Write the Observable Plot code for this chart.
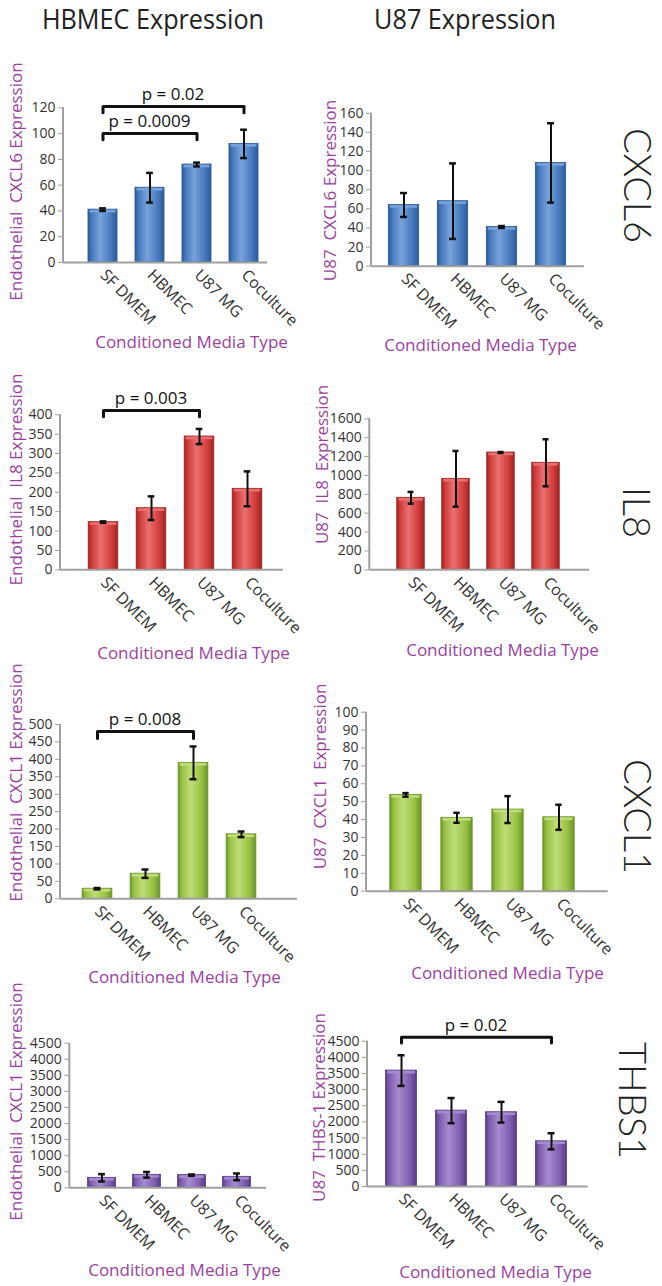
<!DOCTYPE html>
<html>
<head>
<meta charset="utf-8">
<script src="https://cdn.jsdelivr.net/npm/d3@7"></script>
<script src="https://cdn.jsdelivr.net/npm/@observablehq/plot@0.6"></script>
<style>
  html, body { margin: 0; padding: 0; background: #fff; }
  #root { position: relative; width: 662px; height: 1286px; overflow: hidden; font-family: "Open Sans", sans-serif; }
  .coltitle { position: absolute; font-size: 28px; color: #222; transform: translate(-50%, -50%) scaleX(0.9); white-space: nowrap; line-height: 1; }
  .panel { position: absolute; }
</style>
</head>
<body>
<div id="root"></div>
<script>
// ---------- data ----------
const categories = ["SF DMEM", "HBMEC", "U87 MG", "Coculture"];
const columnTitles = ["HBMEC Expression", "U87 Expression"];
const rowLabels = ["CXCL6", "IL8", "CXCL1", "THBS1"];
const xTitle = "Conditioned Media Type";

const hbmecCXCL6 = [41, 58, 76, 92];
const hbmecCXCL6Err = [1, 11.5, 1.5, 11];
const u87CXCL6 = [64, 68, 41, 108];
const u87CXCL6Err = [12.5, 39.5, 1, 41.5];
const hbmecIL8 = [123, 159, 344, 209];
const hbmecIL8Err = [2, 30.5, 19.5, 45];
const u87IL8 = [763, 964, 1243, 1134];
const u87IL8Err = [62, 295, 5, 249];
const hbmecCXCL1 = [29, 72, 390, 185];
const hbmecCXCL1Err = [2, 12, 47, 8];
const u87CXCL1 = [53.8, 41, 45.6, 41.3];
const u87CXCL1Err = [1, 2.8, 7.5, 7];
const hbmecTHBS1 = [311, 404, 394, 342];
const hbmecTHBS1Err = [114, 88, 20, 104];
const u87THBS1 = [3590, 2350, 2300, 1400];
const u87THBS1Err = [475, 390, 320, 250];

const yLabels = [
  "Endothelial  CXCL6 Expression", "U87  CXCL6 Expression",
  "Endothelial  IL8 Expression", "U87  IL8  Expression",
  "Endothelial  CXCL1 Expression", "U87  CXCL1  Expression",
  "Endothelial  CXCL1 Expression", "U87  THBS-1 Expression"
];
const yMax = [120, 160, 400, 1600, 500, 100, 4500, 4500];
const yStep = [20, 20, 50, 200, 50, 10, 500, 500];

const pLabels = ["p = 0.02", "p = 0.0009", "p = 0.003", "p = 0.008", "p = 0.02"];
const pPanel = [0, 0, 2, 4, 7];
const pFrom = ["SF DMEM", "SF DMEM", "SF DMEM", "SF DMEM", "SF DMEM"];
const pTo = ["Coculture", "U87 MG", "U87 MG", "U87 MG", "Coculture"];
const pLevel = [121, 100, 411, 480, 4624];

// ---------- styling / layout ----------
const seriesValues = [hbmecCXCL6, u87CXCL6, hbmecIL8, u87IL8, hbmecCXCL1, u87CXCL1, hbmecTHBS1, u87THBS1];
const seriesErrors = [hbmecCXCL6Err, u87CXCL6Err, hbmecIL8Err, u87IL8Err, hbmecCXCL1Err, u87CXCL1Err, hbmecTHBS1Err, u87THBS1Err];

const palettes = [
  {dark: "#2b5a96", main: "#4577bc", light: "#78a3dc"},
  {dark: "#9e2424", main: "#d03a3a", light: "#ea7070"},
  {dark: "#6a9327", main: "#97c043", light: "#c0de78"},
  {dark: "#573c86", main: "#7d5cae", light: "#a68bd0"}
];
const purple = "#9b3fa0";

const layout = [
  {col: 0, axisX: 63,    rightEnd: 267,   topY: 107.3,  zeroY: 262,    inL: 15,    inR: 0,    yLab: [16, 181],   xTit: [191, 342]},
  {col: 1, axisX: 371,   rightEnd: 584,   topY: 112.7,  zeroY: 265.7,  inL: 8.2,   inR: 8.4,  yLab: [330, 190],  xTit: [480, 345],   row: [636, 185]},
  {col: 0, axisX: 60,    rightEnd: 283,   topY: 414.3,  zeroY: 569.3,  inL: 18.5,  inR: 11.1, yLab: [16, 479],   xTit: [193, 653]},
  {col: 1, axisX: 369.3, rightEnd: 589,   topY: 418.3,  zeroY: 569.3,  inL: 16.4,  inR: 19.3, yLab: [322, 464],  xTit: [502, 650],   row: [635, 512]},
  {col: 0, axisX: 60,    rightEnd: 297,   topY: 724,    zeroY: 898.3,  inL: 12.65, inR: 32,   yLab: [16, 782],   xTit: [184, 977]},
  {col: 1, axisX: 366,   rightEnd: 607.7, topY: 711.7,  zeroY: 890.7,  inL: 12.5,  inR: 22.5, yLab: [320, 776],  xTit: [507, 973],   row: [636, 816]},
  {col: 0, axisX: 69.3,  rightEnd: 266,   topY: 1042.7, zeroY: 1187.3, inL: 9.8,   inR: 6.1,  yLab: [16, 1101],  xTit: [184, 1270]},
  {col: 1, axisX: 367,   rightEnd: 587.7, topY: 1040.7, zeroY: 1186,   inL: 9,     inR: 11.7, yLab: [319, 1107], xTit: [495, 1271.7], row: [631, 1100]}
];

const root = document.getElementById("root");

// column titles
[[152.5, 17.5], [465, 17.5]].forEach(([x, y], k) => {
  const d = document.createElement("div");
  d.className = "coltitle";
  d.style.left = x + "px";
  d.style.top = y + "px";
  d.textContent = columnTitles[k];
  root.appendChild(d);
});

function defsMark(id, pal) {
  return () => {
    const defs = d3.create("svg:defs");
    const g = defs.append("linearGradient").attr("id", id).attr("x1", 0).attr("x2", 1).attr("y1", 0).attr("y2", 0);
    [[0, pal.dark], [0.12, pal.main], [0.42, pal.light], [0.8, pal.main], [1, pal.dark]].forEach(([o, c]) => {
      g.append("stop").attr("offset", o).attr("stop-color", c);
    });
    return defs.node();
  };
}

function leftLine() {
  return (index, scales, values, dims) =>
    d3.create("svg:line")
      .attr("x1", dims.marginLeft).attr("x2", dims.marginLeft)
      .attr("y1", dims.marginTop).attr("y2", dims.height - dims.marginBottom)
      .attr("stroke", "#a0a0a0").attr("stroke-width", 2).node();
}

function pTextMark(k) {
  return (index, scales) => {
    const x = scales.x;
    const bw = x.bandwidth ? x.bandwidth() : (x(categories[1]) - x(categories[0]));
    const cx = (x(pFrom[k]) + x(pTo[k])) / 2 + bw / 2;
    const cy = scales.y(pLevel[k]) - 6;
    return d3.create("svg:text")
      .attr("x", cx).attr("y", cy)
      .attr("text-anchor", "middle")
      .attr("font-size", 17)
      .attr("fill", "#111")
      .text(pLabels[k]).node();
  };
}

function buildPanel(i) {
  const L = layout[i];
  const r = Math.floor(i / 2);
  const pal = palettes[r];
  const data = categories.map((c, j) => ({cat: c, value: seriesValues[i][j], err: seriesErrors[i][j]}));
  const svgLeft = L.col === 0 ? 0 : 300;
  const svgWidth = L.col === 0 ? 300 : 362;
  const svgTop = Math.round(L.topY - 85);
  const svgHeight = Math.round(L.zeroY + 100 - svgTop);
  const step = (L.rightEnd - L.axisX - L.inL - L.inR) / categories.length;
  const barInset = step * (1 - 0.62) / 2;
  const capInset = (step - 7) / 2;
  const gradId = "grad" + r;

  const marks = [
    defsMark(gradId, pal),
    Plot.barY(data, {x: "cat", y: "value", fill: `url(#${gradId})`, stroke: pal.dark, strokeWidth: 0.8,
      insetLeft: barInset, insetRight: barInset}),
    Plot.tickY(data, {x: "cat", y: "value", dy: 1.5, stroke: pal.light, strokeWidth: 2.5,
      insetLeft: barInset + 1.5, insetRight: barInset + 1.5}),
    Plot.ruleX(data, {x: "cat", y1: d => d.value - d.err, y2: d => d.value + d.err, stroke: "#111", strokeWidth: 2}),
    Plot.tickY(data, {x: "cat", y: d => d.value + d.err, stroke: "#111", strokeWidth: 2.5, insetLeft: capInset, insetRight: capInset}),
    Plot.tickY(data, {x: "cat", y: d => d.value - d.err, stroke: "#111", strokeWidth: 2.5, insetLeft: capInset, insetRight: capInset}),
    Plot.ruleY([0], {stroke: "#a0a0a0", strokeWidth: 2}),
    leftLine(),
    Plot.axisY({ticks: d3.range(0, yMax[i] + yStep[i] / 2, yStep[i]), tickSize: 5, tickPadding: 3,
      tickFormat: d => String(d), stroke: "#a0a0a0", fill: "#333", fontSize: 14, label: null}),
    Plot.axisX({tickRotate: 45, tickSize: 0, tickPadding: 10, fill: "#333", fontSize: 16, label: null}),
    Plot.text([yLabels[i]], {text: d => d, frameAnchor: "top-left", dx: L.yLab[0] - L.axisX, dy: L.yLab[1] - L.topY,
      rotate: -90, textAnchor: "middle", lineAnchor: "middle", fill: purple, fontSize: 17}),
    Plot.text([xTitle], {text: d => d, frameAnchor: "top-left", dx: L.xTit[0] - L.axisX, dy: L.xTit[1] - L.topY,
      textAnchor: "middle", lineAnchor: "middle", fill: purple, fontSize: 17})
  ];

  if (L.row) {
    marks.push(Plot.text([rowLabels[r]], {text: d => d, frameAnchor: "top-left", dx: L.row[0] - L.axisX, dy: L.row[1] - L.topY,
      rotate: 90, textAnchor: "middle", lineAnchor: "middle", fill: "#222", fontSize: 38, fontWeight: 300,
      fontFamily: "Lato, 'Open Sans', sans-serif"}));
  }

  pPanel.forEach((p, k) => {
    if (p !== i) return;
    const drop = yMax[i] * 0.04;
    const pts = [
      {x: pFrom[k], y: pLevel[k] - drop}, {x: pFrom[k], y: pLevel[k]},
      {x: pTo[k], y: pLevel[k]}, {x: pTo[k], y: pLevel[k] - drop}
    ];
    marks.push(Plot.line(pts, {x: "x", y: "y", stroke: "#111", strokeWidth: 3, strokeLinejoin: "round", strokeLinecap: "round"}));
    marks.push(pTextMark(k));
  });

  const svg = Plot.plot({
    width: svgWidth,
    height: svgHeight,
    marginLeft: L.axisX - svgLeft,
    marginRight: svgLeft + svgWidth - L.rightEnd,
    marginTop: L.topY - svgTop,
    marginBottom: svgTop + svgHeight - L.zeroY,
    style: {fontFamily: "'Open Sans', sans-serif", background: "transparent", overflow: "visible", maxWidth: "none"},
    x: {type: "band", domain: categories, padding: 0, insetLeft: L.inL, insetRight: L.inR},
    y: {domain: [0, yMax[i]]},
    marks
  });
  svg.classList.add("panel");
  svg.style.left = svgLeft + "px";
  svg.style.top = svgTop + "px";
  root.appendChild(svg);
}

for (let i = 0; i < layout.length; i++) buildPanel(i);
</script>
</body>
</html>
